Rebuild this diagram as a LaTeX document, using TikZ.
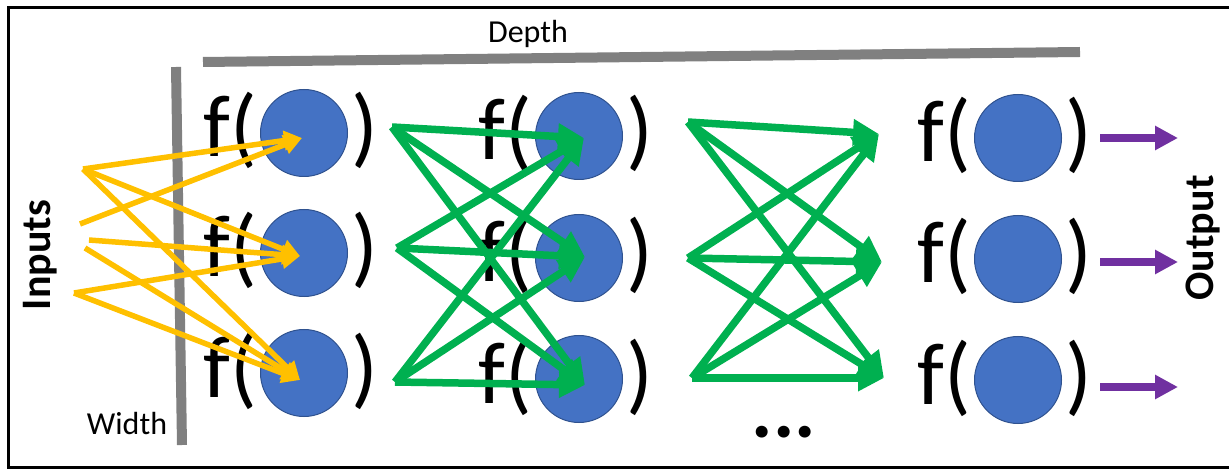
\documentclass[tikz,border=0pt]{standalone}
\usepackage{fontspec}
\setmainfont{Carlito}
\usetikzlibrary{arrows.meta}
\definecolor{neuronfill}{HTML}{4472C4}
\definecolor{neuronedge}{HTML}{2F528F}
\definecolor{inarrow}{HTML}{FFC000}
\definecolor{hidarrow}{HTML}{00B050}
\definecolor{outarrow}{HTML}{7030A0}
\definecolor{barcol}{HTML}{808080}
\begin{document}
\begin{tikzpicture}[x=1pt,y=-1pt,
  neuron/.style={circle,fill=neuronfill,draw=neuronedge,line width=1pt,minimum size=87pt,inner sep=0pt},
  fopen/.style={font=\fontsize{88}{90}\selectfont,inner sep=0pt,anchor=base east},
  fclose/.style={font=\fontsize{88}{90}\selectfont,inner sep=0pt,anchor=base west},
  axisbar/.style={draw=barcol,line width=10pt},
  axislabel/.style={font=\fontsize{32}{36}\selectfont,inner sep=0pt,anchor=base},
  sidelabel/.style={font=\fontsize{42}{46}\selectfont\bfseries,inner sep=0pt,rotate=90},
  inedge/.style={draw=inarrow,line width=5.5pt,-{Triangle[length=18pt,width=19pt]}},
  hidedge/.style={draw=hidarrow,line width=7.5pt,-{Triangle[length=26pt,width=25pt]}},
  outedge/.style={draw=outarrow,line width=7.5pt,-{Triangle[length=23pt,width=23pt]}}
]
\useasboundingbox (0,0) rectangle (1229,470);

% frame (open on the right)
\draw[line width=3pt] (1229,7.5) -- (8.5,7.5) -- (8.5,467.5) -- (1229,467.5);

% depth and width axes
\coordinate (depthL) at (203,62);
\coordinate (depthR) at (1080,52);
\coordinate (widthT) at (176,67);
\coordinate (widthB) at (182,445);
\draw[axisbar] (depthL) -- (depthR);
\draw[axisbar] (widthT) -- (widthB);
\node[axislabel] (depthlbl) at (528,43) {Depth};
\node[axislabel] (widthlbl) at (127,434) {Width};

% side labels
\node[sidelabel] (inputs) at (40,255) {Inputs};
\node[sidelabel] (output) at (1203,238) {Output};

% neurons f( o )
\foreach \n/\x/\y in {n11/304/133, n12/304/253, n13/304/373,
                      n21/579/136, n22/579/258, n23/579/379,
                      n31/1018/138, n32/1018/259, n33/1018/380} {
  \node[neuron] (\n) at (\x,\y) {};
  \node[fopen] (\n-f) at ([xshift=-3pt,yshift=-24pt]\n.west) {f(};
  \node[fclose] (\n-c) at ([xshift=3pt,yshift=-24pt]\n.east) {)};
}

% ellipsis under the last hidden layer
\node[font=\fontsize{80}{84}\selectfont\bfseries,inner sep=0pt,anchor=base] (dots) at (784,437) {...};

% input points and targets
\coordinate (inA) at (83,169);
\coordinate (inB) at (80,224);
\coordinate (inC) at (89,240);
\coordinate (inCc) at (85,248);
\coordinate (inD) at (74,293);
\coordinate (y1) at (302,138);
\coordinate (y2) at (300,256);
\coordinate (y3) at (300,380);

\draw[inedge] (inA) -- (y1);
\draw[inedge] (inB) -- (y1);
\draw[inedge] (inA) -- (y2);
\draw[inedge] (inC) -- (y2);
\draw[inedge] (inD) -- (y2);
\draw[inedge] (inA) -- (y3);
\draw[inedge] (inCc) -- (y3);
\draw[inedge] (inD) -- (y3);

% layer 1 -> layer 2
\coordinate (h1) at (392,127);
\coordinate (h2) at (397,248);
\coordinate (h3) at (395,382);
\coordinate (e1) at (584,138);
\coordinate (e2) at (585,257);
\coordinate (e3) at (585,385);
\foreach \s in {h1,h2,h3}
  \foreach \t in {e1,e2,e3}
    \draw[hidedge] (\s) -- (\t);

% layer 2 -> last layer
\coordinate (k1) at (688,122);
\coordinate (k2) at (688,258);
\coordinate (k3) at (692,378);
\coordinate (u1) at (879,134);
\coordinate (u2) at (882,262);
\coordinate (u3) at (884,378);
\foreach \s in {k1,k2,k3}
  \foreach \t in {u1,u2,u3}
    \draw[hidedge] (\s) -- (\t);

% outputs
\foreach \i/\y in {1/138, 2/262, 3/387} {
  \coordinate (o\i) at (1100,\y);
  \coordinate (p\i) at (1178,\y);
  \draw[outedge] (o\i) -- (p\i);
}
\end{tikzpicture}
\end{document}
